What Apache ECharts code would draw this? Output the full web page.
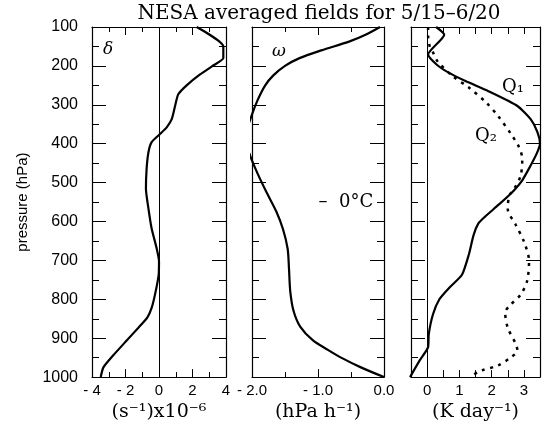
<!DOCTYPE html>
<html>
<head>
<meta charset="utf-8">
<script src="https://cdn.jsdelivr.net/npm/echarts@6/dist/echarts.min.js"></script>
<style>
  html, body { margin: 0; padding: 0; background: #fff; }
  #chart { width: 543px; height: 427px; }
</style>
</head>
<body>
<div id="chart"></div>
<script>
// Pressure tick labels (hPa)
const pressureTicks = [100, 200, 300, 400, 500, 600, 700, 800, 900, 1000];

// Divergence profile delta (1e-6 s^-1)
const deltaP = [100, 150, 180, 200, 222, 250, 273, 303, 337, 358, 375, 396, 422, 465, 516, 567, 618, 669, 702, 737, 788, 822, 847, 873, 906, 944, 975, 1000];
const deltaV = [2.25, 3.84, 3.84, 3.2, 2.45, 1.65, 1.15, 0.96, 0.76, 0.46, 0.06, -0.44, -0.63, -0.74, -0.78, -0.63, -0.44, -0.14, 0.0, -0.02, -0.24, -0.44, -0.70, -1.23, -1.93, -2.73, -3.32, -3.48];

// Vertical velocity omega (hPa h^-1)
const omegaP = [100, 120, 137, 160, 180, 200, 225, 250, 290, 330, 370, 400, 430, 475, 525, 575, 620, 670, 720, 780, 830, 870, 905, 930, 950, 975, 1000];
const omegaV = [-0.06, -0.28, -0.52, -0.95, -1.28, -1.5, -1.68, -1.8, -1.92, -2.01, -2.08, -2.08, -2.03, -1.92, -1.78, -1.63, -1.53, -1.46, -1.44, -1.42, -1.37, -1.27, -1.08, -0.85, -0.65, -0.35, 0.0];

// Apparent heat source Q1 (K day^-1)
const q1P = [100, 120, 171, 197, 218, 239, 265, 303, 337, 370, 400, 425, 456, 494, 528, 558, 588, 605, 635, 686, 737, 771, 800, 839, 890, 923, 957, 1000];
const q1V = [0.28, 0.53, 0.03, 0.3, 0.68, 1.19, 1.9, 2.8, 3.21, 3.42, 3.5, 3.4, 3.21, 2.95, 2.6, 2.2, 1.79, 1.59, 1.44, 1.29, 1.08, 0.68, 0.38, 0.18, 0.05, 0.03, -0.23, -0.53];

// Apparent moisture sink Q2 (K day^-1)
const q2P = [100, 120, 150, 163, 188, 227, 256, 295, 329, 375, 409, 439, 482, 516, 533, 567, 609, 651, 702, 753, 788, 817, 834, 873, 915, 932, 949, 970, 983, 996];
const q2V = [0.03, 0.03, 0.08, 0.17, 0.32, 0.8, 1.3, 1.84, 2.2, 2.6, 2.85, 2.95, 2.9, 2.7, 2.55, 2.5, 2.75, 3.0, 3.16, 3.1, 2.9, 2.55, 2.42, 2.5, 2.75, 2.8, 2.6, 2.2, 1.69, 1.39];

const pairs = (xs, ps) => xs.map((v, i) => [v, ps[i]]);

const SANS = 'Liberation Sans, Arial, sans-serif';
const SERIF = 'DejaVu Serif, serif';
const INK = '#000';

const panels = [
  { left: 92, width: 134, min: -4, max: 4, interval: 2, minor: 2,
    fmt: v => (v < 0 ? '- ' + Math.abs(v) : String(v)),
    name: '(s\u207B\u00B9)x10\u207B\u2076' },
  { left: 252, width: 132, min: -2, max: 0, interval: 1, minor: 2,
    fmt: v => (v < 0 ? '- ' + Math.abs(v).toFixed(1) : v.toFixed(1)),
    name: '(hPa h\u207B\u00B9)' },
  { left: 411, width: 131, min: -0.5, max: 3.5, interval: 0.5, minor: 0,
    fmt: v => (v >= 0 && Math.abs(v - Math.round(v)) < 1e-6 ? String(Math.round(v)) : ''),
    name: '(K day\u207B\u00B9)' }
];

const grid = [], xAxis = [], yAxis = [];
const axisLine = { show: true, onZero: false, lineStyle: { color: INK, width: 1.2 } };

panels.forEach((pn, i) => {
  grid.push({ left: pn.left, width: pn.width, top: 27, height: 353, containLabel: false });
  const xBase = {
    gridIndex: i, type: 'value', min: pn.min, max: pn.max, interval: pn.interval,
    axisLine: axisLine, splitLine: { show: false },
    axisTick: { show: true, inside: true, length: pn.minor ? 8 : 7, lineStyle: { color: INK, width: 1 } },
    minorTick: { show: pn.minor > 0, splitNumber: pn.minor || 5, length: 5, lineStyle: { color: INK, width: 1 } }
  };
  xAxis.push(Object.assign({}, xBase, {
    position: 'bottom',
    axisLabel: { show: true, margin: 6, color: INK, fontFamily: SANS, fontSize: 15, formatter: pn.fmt, showMinLabel: true, showMaxLabel: true },
    name: pn.name, nameLocation: 'middle', nameGap: 23,
    nameTextStyle: { color: INK, fontFamily: SERIF, fontSize: 19 }
  }));
  xAxis.push(Object.assign({}, xBase, { position: 'top', axisLabel: { show: false } }));

  const yBase = {
    gridIndex: i, type: 'value', inverse: true, min: 100, max: 1000, interval: 100,
    axisLine: axisLine, splitLine: { show: false },
    axisTick: { show: true, inside: true, length: 14, lineStyle: { color: INK, width: 1 } },
    minorTick: { show: true, splitNumber: 2, length: 7, lineStyle: { color: INK, width: 1 } }
  };
  yAxis.push(Object.assign({}, yBase, {
    position: 'left',
    axisLabel: {
      show: i === 0, margin: 14, color: INK, fontFamily: SANS, fontSize: 16,
      formatter: v => (pressureTicks.indexOf(v) >= 0 ? String(v) : '')
    },
    name: i === 0 ? 'pressure (hPa)' : '', nameLocation: 'middle', nameGap: 62, nameRotate: 90,
    nameTextStyle: { color: INK, fontFamily: SANS, fontSize: 15 }
  }));
  yAxis.push(Object.assign({}, yBase, { position: 'right', axisLabel: { show: false } }));
});

const zeroLine = {
  silent: true, symbol: ['none', 'none'], label: { show: false },
  lineStyle: { color: INK, width: 1, type: 'solid' },
  data: [{ xAxis: 0 }]
};

// profiles may poke slightly past the frame, so they are not clipped
const curve = (data, xi, yi, extra) => Object.assign({
  type: 'line', data: data, xAxisIndex: xi, yAxisIndex: yi,
  showSymbol: false, smooth: 0.3, animation: false, clip: false,
  lineStyle: { color: INK, width: 2.2 }
}, extra || {});

const series = [
  curve(pairs(deltaV, deltaP), 0, 0, { markLine: zeroLine, smooth: 0.2 }),
  curve(pairs(omegaV, omegaP), 2, 2),
  curve(pairs(q1V, q1P), 4, 4, { markLine: zeroLine, smooth: 0.2 }),
  curve(pairs(q2V, q2P), 4, 4, { lineStyle: { color: INK, width: 2.5, type: [3, 5.5], cap: 'butt' } })
];

const txt = (x, y, text, font, align) => ({
  type: 'text', x: x, y: y,
  style: { text: text, font: font, fill: INK, align: align || 'left', verticalAlign: 'middle' }
});

const graphic = [
  txt(319, 14, 'NESA averaged fields for 5/15\u20136/20', '20px ' + SERIF, 'center'),
  txt(103, 50, '\u03B4', 'italic 17px ' + SERIF),
  txt(272, 52, '\u03C9', 'italic 17px ' + SERIF),
  txt(502, 87, 'Q\u2081', '18px ' + SERIF),
  txt(475, 136, 'Q\u2082', '18px ' + SERIF),
  txt(323, 202, '\u2013', '18px ' + SERIF, 'center'),
  txt(339, 202, '0\u00B0C', '18px ' + SERIF)
];

const chart = echarts.init(document.getElementById('chart'), null, { renderer: 'canvas' });
chart.setOption({
  animation: false,
  backgroundColor: '#fff',
  grid: grid, xAxis: xAxis, yAxis: yAxis, series: series, graphic: graphic
});
</script>
</body>
</html>
